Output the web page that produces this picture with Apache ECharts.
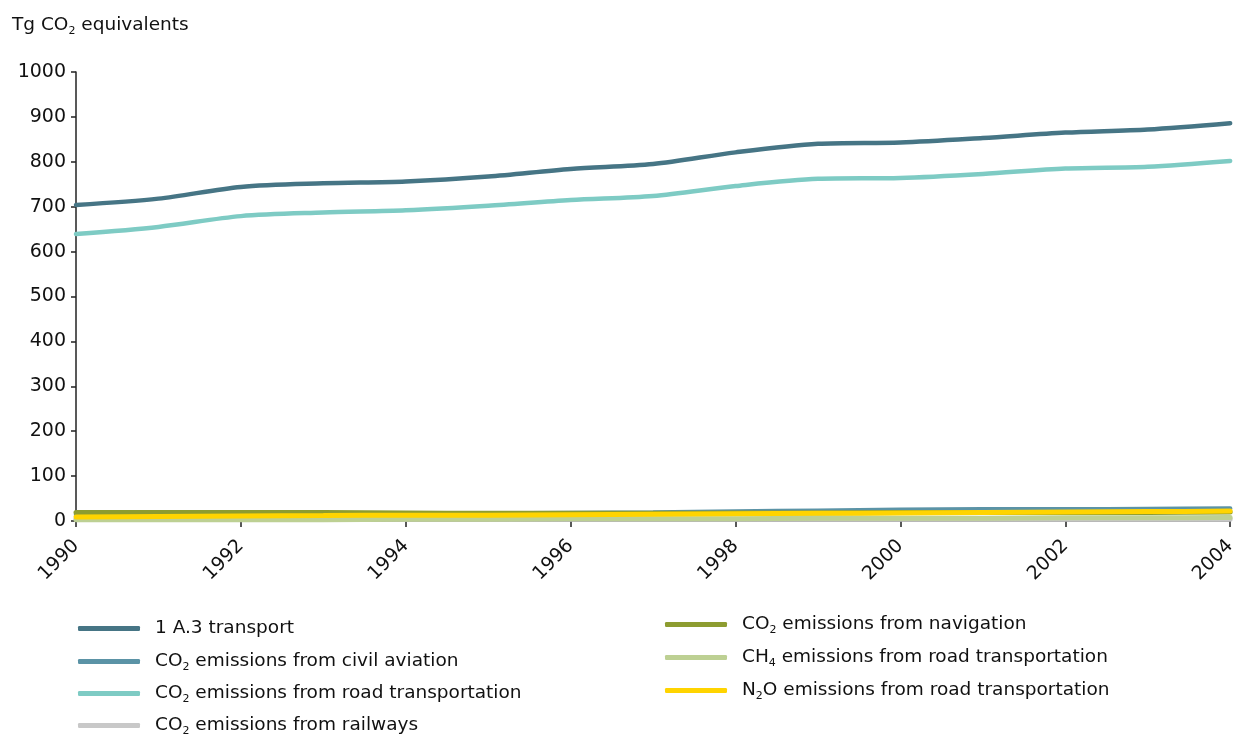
<!DOCTYPE html>
<html><head><meta charset="utf-8">
<script src="https://cdn.jsdelivr.net/npm/echarts@6/dist/echarts.min.js"></script>
<style>html,body{margin:0;padding:0;background:#fff}#c{width:1239px;height:735px}</style>
</head><body><div id="c"></div>
<script>
const years = ['1990','1991','1992','1993','1994','1995','1996','1997','1998','1999','2000','2001','2002','2003','2004'];
const transport = [704,718,744,752,756,767,784,795,821,840,843,853,865,872,886];
const civilAviation = [14,14,15,15,16,17,18,19,21,23,25,26,26,27,28];
const roadCO2 = [639,655,679,687,692,702,715,724,746,762,764,773,785,789,802];
const railways = [5,5,5,5,4,4,4,4,4,4,4,4,4,4,4];
const navigation = [19,19,19,19,18,17,17,17,18,18,19,19,19,19,20];
const roadCH4 = [3,3,3,3,4,4,5,5,5,6,6,6,7,7,8];
const roadN2O = [9,10,11,12,13,13,14,15,16,17,18,19,20,21,22];
const yTicks = [0,100,200,300,400,500,600,700,800,900,1000];

const names = [
  '1 A.3 transport',
  'CO2 emissions from civil aviation',
  'CO2 emissions from road transportation',
  'CO2 emissions from railways',
  'CO2 emissions from navigation',
  'CH4 emissions from road transportation',
  'N2O emissions from road transportation'
];
const colors = ['#467585','#5b93a6','#7ecbc4','#c8c8c8','#8d9c30','#bdd093','#ffd400'];
const widths = [4.5,4.5,4.5,5,5,5,5];
const dataSets = [transport, civilAviation, roadCO2, railways, navigation, roadCH4, roadN2O];

const font = 'DejaVu Sans, Verdana, sans-serif';
const rich = {
  n: {fontSize: 18.5, fontFamily: font, color: '#111'},
  s: {fontSize: 11, fontFamily: font, color: '#111', padding: [11, 0, 0, 0]}
};
function fmt(name) {
  const m = name.match(/^(CO|CH|N)(\d)(.*)$/);
  if (m) return '{n|' + m[1] + '}{s|' + m[2] + '}{n|' + m[3] + '}';
  return '{n|' + name + '}';
}

const legendPos = [
  {left: 78, y: 627}, {left: 78, y: 660}, {left: 78, y: 692}, {left: 78, y: 724},
  {left: 665, y: 623}, {left: 665, y: 656}, {left: 665, y: 689}
];
const legends = names.map((n, i) => ({
  data: [n],
  left: legendPos[i].left,
  top: legendPos[i].y - 8,
  padding: 0,
  icon: 'roundRect',
  itemWidth: 62,
  itemHeight: 5,
  itemGap: 0,
  selectedMode: false,
  formatter: fmt,
  textStyle: {rich: rich, fontFamily: font, fontSize: 18.5, padding: [0, 0, 0, 10]}
}));

const chart = echarts.init(document.getElementById('c'), null, {renderer: 'canvas'});
chart.setOption({
  animation: false,
  color: colors,
  graphic: [{
    type: 'text', left: 12, top: 16,
    style: {
      text: '{n|Tg CO}{s|2}{n| equivalents}',
      rich: {
        n: {fontSize: 18.5, fontFamily: font, fill: '#111'},
        s: {fontSize: 11, fontFamily: font, fill: '#111', padding: [11, 0, 0, 0]}
      }
    }
  }],
  legend: legends,
  grid: {left: 76, right: 8, top: 72, bottom: 214, containLabel: false},
  xAxis: {
    type: 'category', data: years, boundaryGap: false,
    axisLine: {lineStyle: {color: '#666', width: 1.5}},
    axisTick: {interval: 1, length: 6, lineStyle: {color: '#222', width: 1.5}},
    axisLabel: {interval: 1, rotate: 45, fontSize: 19, fontFamily: font, color: '#111', margin: 22}
  },
  yAxis: {
    type: 'value', min: yTicks[0], max: yTicks[yTicks.length - 1], interval: 100,
    splitLine: {show: false},
    axisLine: {show: true, lineStyle: {color: '#222', width: 1.5}},
    axisTick: {show: true, length: 5, lineStyle: {color: '#222', width: 1.5}},
    axisLabel: {fontSize: 19, fontFamily: font, color: '#111', margin: 10, formatter: v => String(v)}
  },
  series: names.map((n, i) => ({
    name: n, type: 'line', data: dataSets[i], smooth: 0.3,
    showSymbol: false, symbol: 'none',
    lineStyle: {color: colors[i], width: widths[i], cap: 'round'},
    itemStyle: {color: colors[i]}
  }))
});
</script></body></html>
